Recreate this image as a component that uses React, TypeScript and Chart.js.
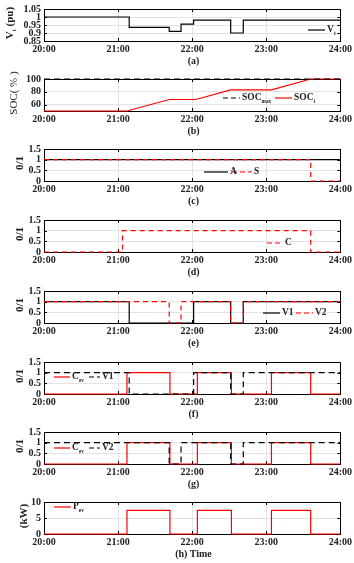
import React, { useEffect, useRef } from "react";
import { Chart, registerables } from "chart.js";
Chart.register(...registerables);

const FONT = "'Liberation Serif', 'Times New Roman', serif";
const RED = "rgb(255,0,0)";
const BLACK = "#000000";

// x axis (hours)
const hourTicks = [20, 21, 22, 23, 24];
// y ticks
const voltTicks = [0.85, 0.9, 0.95, 1, 1.05];
const socTicks = [60, 80, 100];
const binTicks = [0, 0.5, 1, 1.5];
const powerTicks = [0, 5, 10];

// (a) terminal voltage
const vtTimes = [20, 21.15, 21.69, 21.85, 22.02, 22.52, 22.69, 24];
const vtValues = [1.0, 0.935, 0.91, 0.955, 0.98, 0.9, 0.98, 0.98];
// (b) SOC
const socTimes = [20, 21.12, 21.69, 22.05, 22.52, 23.07, 23.6, 24];
const socValues = [50, 50, 68, 68, 83, 83, 100, 100];
const socMaxTimes = [20, 24];
const socMaxValues = [100, 100];
// (c) A and S
const aTimes = [20, 24];
const aValues = [1, 1];
const sTimes = [20, 23.6, 24];
const sValues = [1, 0, 0];
// (d) C
const cTimes = [20, 21.06, 23.6, 24];
const cValues = [0, 1, 0, 0];
// (e) V1 and V2
const v1Times = [20, 21.15, 22.02, 22.52, 22.69, 24];
const v1Values = [1, 0, 1, 0, 1, 1];
const v2Times = [20, 21.69, 21.85, 22.52, 22.69, 24];
const v2Values = [1, 0, 1, 0, 1, 1];
// (f)(g)(h) EV charging
const cevTimes = [20, 21.12, 21.7, 22.07, 22.53, 23.07, 23.6, 24];
const cevValues = [0, 1, 0, 1, 0, 1, 0, 0];
const pevValues = [0, 7.4, 0, 7.4, 0, 7.4, 0, 0];

type Series = { times: number[]; values: number[]; color: string; dash?: number[]; stepped?: boolean };
type LegendItem = { x1: number; x2: number; color: string; dash?: boolean; label: string; sub?: string };
type Panel = {
  top: number;
  yMin: number;
  yMax: number;
  yTicks: number[];
  series: Series[];
  title: string;
  titleSub?: string;
  titleRest?: string;
  titleBold: boolean;
  titleX: number;
  legend: LegendItem[];
  legendY: number;
  caption: string;
};

const PLOT_LEFT = 44;
const PLOT_RIGHT = 343;
const PLOT_H = 37;
const PAD_TOP = 4;
const XAXIS_H = 16;

const panels: Panel[] = [
  {
    top: 4, yMin: 0.85, yMax: 1.05, yTicks: voltTicks,
    series: [{ times: vtTimes, values: vtValues, color: BLACK, stepped: true }],
    title: "V", titleSub: "t", titleRest: " (pu)", titleBold: true, titleX: 9,
    legend: [{ x1: 308, x2: 325, color: BLACK, label: "V", sub: "t" }], legendY: 30,
    caption: "(a)",
  },
  {
    top: 74, yMin: 50, yMax: 100, yTicks: socTicks,
    series: [
      { times: socMaxTimes, values: socMaxValues, color: BLACK, dash: [6, 4] },
      { times: socTimes, values: socValues, color: RED },
    ],
    title: "SOC( % )", titleBold: false, titleX: 13,
    legend: [
      { x1: 223, x2: 240, color: BLACK, dash: true, label: "SOC", sub: "max" },
      { x1: 275, x2: 292, color: RED, label: "SOC", sub: "t" },
    ], legendY: 98,
    caption: "(b)",
  },
  {
    top: 144, yMin: 0, yMax: 1.5, yTicks: binTicks,
    series: [
      { times: sTimes, values: sValues, color: RED, dash: [5, 4], stepped: true },
      { times: aTimes, values: aValues, color: BLACK, stepped: true },
    ],
    title: "0/1", titleBold: true, titleX: 19,
    legend: [
      { x1: 204, x2: 228, color: BLACK, label: "A" },
      { x1: 232, x2: 252, color: RED, dash: true, label: "S" },
    ], legendY: 172,
    caption: "(c)",
  },
  {
    top: 215, yMin: 0, yMax: 1.5, yTicks: binTicks,
    series: [{ times: cTimes, values: cValues, color: RED, dash: [5, 4], stepped: true }],
    title: "0/1", titleBold: true, titleX: 19,
    legend: [{ x1: 267, x2: 283, color: RED, dash: true, label: "C" }], legendY: 243,
    caption: "(d)",
  },
  {
    top: 286, yMin: 0, yMax: 1.5, yTicks: binTicks,
    series: [
      { times: v2Times, values: v2Values, color: RED, dash: [5, 4], stepped: true },
      { times: v1Times, values: v1Values, color: BLACK, stepped: true },
    ],
    title: "0/1", titleBold: true, titleX: 19,
    legend: [
      { x1: 263, x2: 280, color: BLACK, label: "V1" },
      { x1: 296, x2: 313, color: RED, dash: true, label: "V2" },
    ], legendY: 313,
    caption: "(e)",
  },
  {
    top: 357, yMin: 0, yMax: 1.5, yTicks: binTicks,
    series: [
      { times: v1Times, values: v1Values, color: BLACK, dash: [6, 4], stepped: true },
      { times: cevTimes, values: cevValues, color: RED, stepped: true },
    ],
    title: "0/1", titleBold: true, titleX: 19,
    legend: [
      { x1: 54, x2: 70, color: RED, label: "C", sub: "ev" },
      { x1: 89, x2: 100, color: BLACK, dash: true, label: "V1" },
    ], legendY: 377,
    caption: "(f)",
  },
  {
    top: 427, yMin: 0, yMax: 1.5, yTicks: binTicks,
    series: [
      { times: v2Times, values: v2Values, color: BLACK, dash: [6, 4], stepped: true },
      { times: cevTimes, values: cevValues, color: RED, stepped: true },
    ],
    title: "0/1", titleBold: true, titleX: 19,
    legend: [
      { x1: 54, x2: 70, color: RED, label: "C", sub: "ev" },
      { x1: 89, x2: 100, color: BLACK, dash: true, label: "V2" },
    ], legendY: 448,
    caption: "(g)",
  },
  {
    top: 497, yMin: 0, yMax: 10, yTicks: powerTicks,
    series: [{ times: cevTimes, values: pevValues, color: RED, stepped: true }],
    title: "(kW)", titleBold: true, titleX: 23,
    legend: [{ x1: 54, x2: 71, color: RED, label: "P", sub: "ev" }], legendY: 507,
    caption: "(h) Time",
  },
];

const boxPlugin = {
  id: "boxTicks",
  beforeDatasetsDraw(chart: any) {
    const { ctx, chartArea, scales } = chart;
    const { left, right, top, bottom } = chartArea;
    ctx.save();
    ctx.strokeStyle = "#000";
    ctx.lineWidth = 1;
    ctx.beginPath();
    const tl = 3;
    scales.x.ticks.forEach((t: any) => {
      const px = Math.round(scales.x.getPixelForValue(t.value)) + 0.5;
      ctx.moveTo(px, bottom);
      ctx.lineTo(px, bottom - tl);
      ctx.moveTo(px, top);
      ctx.lineTo(px, top + tl);
    });
    scales.y.ticks.forEach((t: any) => {
      const py = Math.round(scales.y.getPixelForValue(t.value)) + 0.5;
      ctx.moveTo(left, py);
      ctx.lineTo(left + tl, py);
      ctx.moveTo(right, py);
      ctx.lineTo(right - tl, py);
    });
    ctx.stroke();
    ctx.strokeRect(Math.round(left) + 0.5, Math.round(top) + 0.5, Math.round(right - left), Math.round(bottom - top));
    ctx.restore();
  },
};

function fmt(v: number): string {
  return String(Number(v.toFixed(2)));
}

function PanelChart({ p }: { p: Panel }) {
  const ref = useRef<HTMLCanvasElement | null>(null);
  useEffect(() => {
    if (!ref.current) return;
    const chart = new Chart(ref.current, {
      type: "line",
      data: {
        datasets: p.series.map((s) => ({
          data: s.times.map((t, i) => ({ x: t, y: s.values[i] })),
          borderColor: s.color,
          borderWidth: 1.2,
          borderDash: s.dash || [],
          stepped: s.stepped ? "before" : false,
          pointRadius: 0,
          fill: false,
          tension: 0,
          clip: 4,
        })),
      },
      options: {
        animation: false,
        responsive: false,
        maintainAspectRatio: false,
        layout: { autoPadding: false, padding: { top: PAD_TOP, left: 0, right: 354 - PLOT_RIGHT, bottom: 0 } },
        plugins: { legend: { display: false }, tooltip: { enabled: false } },
        scales: {
          x: {
            type: "linear",
            min: 20,
            max: 24,
            afterBuildTicks: (sc: any) => { sc.ticks = hourTicks.map((v) => ({ value: v })); },
            afterFit: (sc: any) => { sc.height = XAXIS_H; },
            ticks: {
              autoSkip: false,
              maxRotation: 0,
              padding: 2,
              color: "#222",
              font: { family: FONT, size: 10, weight: "bold" },
              callback: (v: any) => `${v}:00`,
            },
            grid: { color: "#e3e3e3", drawTicks: false, lineWidth: 1 },
            border: { display: false },
          },
          y: {
            type: "linear",
            min: p.yMin,
            max: p.yMax,
            afterBuildTicks: (sc: any) => { sc.ticks = p.yTicks.map((v) => ({ value: v })); },
            afterFit: (sc: any) => { sc.width = PLOT_LEFT; },
            ticks: {
              autoSkip: false,
              padding: 3,
              color: "#222",
              font: { family: FONT, size: 10, weight: "bold" },
              callback: (v: any) => fmt(Number(v)),
            },
            grid: { color: "#e3e3e3", drawTicks: false, lineWidth: 1 },
            border: { display: false },
          },
        },
      },
      plugins: [boxPlugin],
    } as any);
    return () => chart.destroy();
  }, [p]);
  return (
    <canvas
      ref={ref}
      width={354}
      height={PAD_TOP + PLOT_H + XAXIS_H}
      style={{ position: "absolute", left: 0, top: p.top - PAD_TOP, width: 354, height: PAD_TOP + PLOT_H + XAXIS_H }}
    />
  );
}

const textBase: React.CSSProperties = {
  position: "absolute",
  fontFamily: FONT,
  color: "#222",
  whiteSpace: "nowrap",
  lineHeight: 1,
};

function Label({ main, sub, rest, size }: { main: string; sub?: string; rest?: string; size: number }) {
  return (
    <>
      {main}
      {sub ? <sub style={{ fontSize: size * 0.55, verticalAlign: "baseline", position: "relative", top: size * 0.28 }}>{sub}</sub> : null}
      {rest || ""}
    </>
  );
}

export default function App() {
  return (
    <div style={{ position: "absolute", left: 0, top: 0, width: 354, height: 563, background: "#fff", overflow: "hidden" }}>
      {panels.map((p, i) => (
        <PanelChart key={i} p={p} />
      ))}
      <svg width={354} height={563} style={{ position: "absolute", left: 0, top: 0, pointerEvents: "none" }}>
        {panels.map((p, i) =>
          p.legend.map((l, j) => (
            <line
              key={`${i}-${j}`}
              x1={l.x1}
              x2={l.x2}
              y1={p.legendY}
              y2={p.legendY}
              stroke={l.color}
              strokeWidth={1.2}
              strokeDasharray={l.dash ? "5 3" : undefined}
            />
          ))
        )}
      </svg>
      {panels.map((p, i) => (
        <React.Fragment key={`t${i}`}>
          <div
            style={{
              ...textBase,
              left: p.titleX,
              top: p.top + PLOT_H / 2,
              fontSize: 11,
              fontWeight: p.titleBold ? "bold" : "normal",
              transform: "translate(-50%, -50%) rotate(-90deg)",
            }}
          >
            <Label main={p.title} sub={p.titleSub} rest={p.titleRest} size={11} />
          </div>
          {p.legend.map((l, j) => (
            <div
              key={j}
              style={{ ...textBase, left: l.x2 + 2, top: p.legendY, fontSize: 9.5, fontWeight: "bold", transform: "translateY(-55%)" }}
            >
              <Label main={l.label} sub={l.sub} size={9.5} />
            </div>
          ))}
          <div
            style={{
              ...textBase,
              left: (PLOT_LEFT + PLOT_RIGHT) / 2,
              top: p.top + PLOT_H + 20,
              fontSize: 10,
              fontWeight: "bold",
              transform: "translate(-50%, -50%)",
            }}
          >
            {p.caption}
          </div>
        </React.Fragment>
      ))}
    </div>
  );
}
